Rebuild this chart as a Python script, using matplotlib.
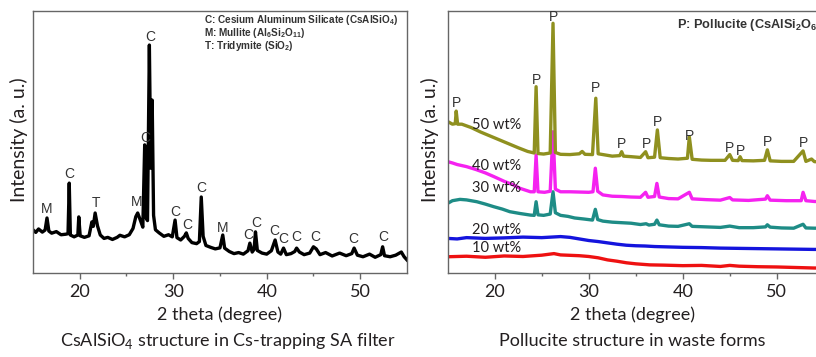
import matplotlib
matplotlib.use('Agg')
import matplotlib.pyplot as plt

# fonts
plt.rcParams['font.family'] = ['Lato', 'DejaVu Sans']
plt.rcParams['mathtext.fontset'] = 'custom'
plt.rcParams['mathtext.rm'] = 'Lato'
plt.rcParams['mathtext.bf'] = 'Liberation Sans:bold'

# ---- left pattern: CsAlSiO4 in SA filter (2 theta, intensity a.u.)
left_tt = [15.0, 15.3, 15.6, 16.0, 16.3, 16.5, 16.7, 17.0, 17.5, 18.0, 18.5, 18.75, 18.88, 19.0,
           19.4, 19.8, 19.9, 20.05, 20.5, 21.0, 21.3, 21.45, 21.65, 21.9, 22.2, 22.6, 23.0, 23.5,
           24.0, 24.3, 24.8, 25.3, 25.7, 26.0, 26.2, 26.5, 26.75, 26.95, 27.1, 27.25, 27.45, 27.6,
           27.75, 27.9, 28.1, 28.5, 29.0, 29.5, 29.9, 30.2, 30.4, 30.8, 31.2, 31.4, 31.6, 32.0,
           32.5, 32.8, 33.0, 33.2, 33.5, 34.0, 34.5, 35.0, 35.3, 35.5, 36.0, 36.5, 37.0, 37.5,
           38.0, 38.2, 38.45, 38.65, 38.8, 39.0, 39.5, 40.0, 40.5, 40.9, 41.2, 41.5, 41.8, 42.1,
           42.6, 43.0, 43.2, 43.5, 44.0, 44.6, 45.0, 45.3, 45.7, 46.3, 47.0, 47.8, 48.5, 49.1,
           49.35, 49.7, 50.3, 51.0, 51.6, 52.2, 52.4, 52.6, 53.2, 53.8, 54.4, 54.7, 55.0]
left_int = [16.5, 15.5, 16.8, 15.6, 16.4, 21.0, 16.0, 15.2, 15.8, 14.6, 14.8, 15.0, 34.3, 14.5,
            13.8, 14.5, 21.4, 14.2, 13.6, 14.2, 19.5, 17.8, 22.9, 18.0, 14.5, 13.2, 13.6, 12.8,
            13.6, 14.4, 13.8, 14.6, 17.0, 21.5, 22.9, 20.0, 17.5, 48.9, 21.0, 20.0, 87.0, 40.0,
            66.0, 22.0, 16.5, 15.3, 14.0, 14.6, 13.8, 20.2, 13.5, 12.6, 14.0, 15.3, 13.2, 11.6,
            11.2, 12.0, 29.0, 14.0, 10.5, 9.8, 9.2, 9.6, 14.5, 9.5, 8.2, 7.4, 7.8, 7.2,
            8.5, 11.4, 8.0, 9.0, 15.7, 8.6, 7.6, 7.2, 8.5, 12.6, 8.0, 7.2, 9.5, 7.0,
            7.4, 8.2, 9.5, 8.0, 7.0, 7.6, 10.0, 9.2, 7.0, 7.8, 6.5, 7.6, 6.6, 7.4,
            9.5, 6.8, 6.2, 7.2, 6.0, 7.0, 10.0, 6.6, 6.2, 6.8, 8.0, 6.2, 5.0]

left_lab = ['M', 'C', 'T', 'M', 'C', 'C', 'C', 'C', 'C', 'M', 'C', 'C', 'C', 'C', 'C', 'C', 'C', 'C']
left_lab_tt = [16.5, 18.9, 21.7, 26.1, 27.0, 27.5, 30.2, 31.5, 33.0, 35.3, 38.0, 38.9, 40.8, 41.8,
               43.2, 45.2, 49.3, 52.5]
left_lab_y = [24.4, 37.8, 26.7, 27.0, 51.5, 90.0, 23.4, 18.3, 32.4, 17.2, 14.5, 19.0, 16.0, 13.0,
              13.7, 13.7, 13.0, 13.7]
left_legend = ['C: Cesium Aluminum Silicate (CsAlSiO$_\\mathbf{4}$)',
               'M: Mullite (Al$_\\mathbf{6}$Si$_\\mathbf{2}$O$_\\mathbf{11}$)',
               'T: Tridymite (SiO$_\\mathbf{2}$)']

# ---- right patterns: pollucite waste forms
w10_tt = [15, 17, 19, 21, 23, 25, 26.3, 27, 29, 30, 31, 32, 33, 34, 35, 36.5, 38, 40, 42, 44, 45,
          46, 48, 50, 52, 54, 55]
w10 = [6.2, 6.4, 6.0, 6.5, 6.3, 6.8, 7.4, 6.9, 6.6, 6.3, 5.8, 5.0, 4.5, 3.9, 3.5, 3.1, 3.0, 2.8,
       2.9, 2.5, 2.9, 2.6, 2.4, 2.3, 2.1, 1.9, 1.9]

w20_tt = [15, 16, 17, 19, 21, 23, 25, 27, 28, 29, 30, 31, 32, 33, 34, 35, 36, 37, 38, 40, 42, 44,
          46, 48, 50, 52, 54, 55]
w20 = [13.2, 13.0, 13.5, 13.2, 13.4, 13.7, 13.5, 13.9, 13.6, 13.0, 12.4, 12.0, 11.5, 11.0, 10.6,
       10.4, 10.3, 10.1, 10.0, 9.8, 9.7, 9.5, 9.4, 9.3, 9.2, 9.1, 9.0, 9.0]

w30_tt = [15, 15.5, 16.3, 17, 18.1, 19.0, 19.9, 20.8, 21.6, 22.7, 23.8, 24.2, 24.4, 24.6, 25.2,
          25.9, 26.2, 26.45, 27, 27.8, 28.5, 29.5, 30.4, 30.7, 30.95, 31.5, 32.5, 33.5, 34.5, 35.5,
          36.1, 36.4, 37.0, 37.25, 37.5, 38.5, 39.5, 40.7, 41, 42.5, 44, 45, 46, 47.5, 48.8, 49.0,
          49.3, 50.5, 51.8, 52.8, 53.1, 54, 55]
w30 = [26.6, 27.6, 28.1, 27.9, 27.2, 26.3, 25.3, 24.4, 23.4, 22.7, 22.1, 22.0, 27.2, 22.2, 22.0,
       22.5, 31.0, 23.0, 22.0, 21.6, 21.0, 20.6, 20.2, 24.3, 20.4, 19.8, 19.4, 19.2, 19.0, 18.5,
       18.8, 18.3, 18.6, 20.2, 18.4, 17.9, 17.8, 18.8, 17.8, 17.6, 17.4, 17.9, 17.3, 17.3, 17.6,
       18.4, 17.5, 17.2, 17.1, 18.6, 17.2, 17.1, 17.1]

w40_tt = [15, 15.5, 16, 17, 18, 19, 19.9, 21, 22, 22.7, 23.8, 24.2, 24.4, 24.6, 25.3, 25.9, 26.2,
          26.45, 27, 28, 29, 30, 30.45, 30.7, 30.95, 31.5, 32.5, 33.5, 34.5, 35.5, 36.05, 36.3, 37.0,
          37.25, 37.5, 38.5, 39.5, 40.7, 41.0, 42.5, 44, 45, 45.3, 47, 48.8, 49.0, 49.3, 51, 52.6,
          52.8, 53.1, 54, 55]
w40 = [42.5, 42.0, 41.4, 40.6, 39.5, 38.2, 36.8, 35.0, 33.6, 32.3, 31.0, 31.0, 45.0, 31.0, 30.8,
       31.2, 53.9, 32.0, 31.0, 31.0, 30.9, 30.8, 31.0, 40.0, 31.2, 29.8, 29.3, 29.2, 29.0, 28.9,
       30.8, 28.9, 29.2, 34.2, 29.0, 28.4, 28.3, 30.8, 28.3, 28.0, 27.8, 28.8, 27.9, 27.7, 28.2,
       29.5, 27.8, 27.6, 27.6, 30.8, 27.6, 27.3, 27.2]

w50_tt = [15, 15.5, 15.8, 15.9, 16.05, 16.5, 17.5, 18.5, 19.5, 20.5, 21.5, 22.5, 23.5, 24.2, 24.4,
          24.6, 25.2, 25.9, 26.2, 26.45, 27, 28, 29, 29.3, 29.6, 30.4, 30.75, 31.0, 31.5, 32.5, 33.3,
          33.5, 33.7, 34.5, 35.5, 36.05, 36.3, 37.0, 37.3, 37.6, 38.5, 39.5, 40.5, 40.7, 41.0, 42,
          43, 44.5, 45.0, 45.3, 45.9, 46.1, 46.3, 47.5, 48.7, 49.0, 49.3, 50.5, 51.8, 52.8, 53.1,
          53.7, 54.0, 55]
w50 = [57.8, 56.8, 57.0, 61.8, 56.8, 56.8, 55.5, 53.8, 52.3, 50.8, 49.3, 47.8, 46.4, 45.8, 71.1,
       45.6, 45.4, 45.8, 95.3, 46.0, 45.3, 45.2, 45.5, 46.4, 45.3, 45.2, 66.7, 45.5, 45.2, 44.6, 44.8,
       46.3, 44.6, 44.4, 44.1, 46.3, 44.0, 44.2, 54.6, 44.0, 43.7, 43.5, 43.8, 52.0, 43.4, 43.1,
       43.0, 43.0, 45.2, 43.0, 42.9, 44.4, 42.9, 42.8, 43.0, 47.0, 42.8, 42.6, 42.6, 46.6, 42.6,
       43.5, 42.5, 42.3]

series = [('10 wt%', w10_tt, w10, '#ee1111', 9.4),
          ('20 wt%', w20_tt, w20, '#1414dd', 16.4),
          ('30 wt%', w30_tt, w30, '#1e8c86', 32.3),
          ('40 wt%', w40_tt, w40, '#f522f0', 41.0),
          ('50 wt%', w50_tt, w50, '#8f901f', 56.5)]

p_tt = [15.9, 24.4, 26.2, 30.7, 33.5, 36.1, 37.3, 40.7, 45.0, 46.1, 49.0, 52.8]
p_y = [64.8, 73.7, 97.8, 70.5, 49.2, 49.2, 57.8, 52.3, 47.8, 46.7, 50.1, 49.7]

txt = '#231f20'
spine = '#666666'

fig = plt.figure(figsize=(8.16, 3.57), dpi=100)
ax1 = fig.add_axes([0.0404, 0.2353, 0.4583, 0.7339])
ax2 = fig.add_axes([0.5487, 0.2353, 0.4608, 0.7339])

for ax in (ax1, ax2):
    ax.set_xlim(15, 55)
    ax.set_ylim(0, 100)
    ax.set_yticks([])
    ax.set_xticks([20, 30, 40, 50])
    ax.set_xticks([25, 35, 45], minor=True)
    ax.tick_params(axis='x', which='major', direction='out', length=4, width=1, color=spine,
                   labelsize=13, labelcolor=txt, pad=4)
    ax.tick_params(axis='x', which='minor', direction='out', length=2.5, width=1, color=spine)
    for s in ax.spines.values():
        s.set_color(spine)
        s.set_linewidth(1)

# left
ax1.plot(left_tt, left_int, color='black', lw=2.4, solid_joinstyle='round')
for lab, x, y in zip(left_lab, left_lab_tt, left_lab_y):
    ax1.text(x, y, lab, ha='center', va='center', fontsize=10, color='#333333',
             family='Liberation Sans')
for i, s in enumerate(left_legend):
    ax1.text(0.457, 0.967 - i * 0.05, s, transform=ax1.transAxes, ha='left', va='center',
             fontsize=7.2, fontweight='bold', color='#333333', family='Liberation Sans')

# right
for name, xs, ys, col, ly in series:
    ax2.plot(xs, ys, color=col, lw=2.4, solid_joinstyle='round')
    ax2.text(17.6, ly, name, ha='left', va='center', fontsize=10.5, color=txt)
for x, y in zip(p_tt, p_y):
    ax2.text(x, y, 'P', ha='center', va='center', fontsize=10, color='#333333',
             family='Liberation Sans')
ax2.text(0.609, 0.948, 'P: Pollucite (CsAlSi$_\\mathbf{2}$O$_\\mathbf{6}$)', transform=ax2.transAxes,
         ha='left', va='center', fontsize=9.2, fontweight='bold', color='#333333',
         family='Liberation Sans')

# axis titles and captions
fig.text(19 / 816, 1 - 140 / 357, 'Intensity (a. u.)', rotation=90, ha='center', va='center',
         fontsize=14, color=txt)
fig.text(430 / 816, 1 - 140 / 357, 'Intensity (a. u.)', rotation=90, ha='center', va='center',
         fontsize=14, color=txt)
fig.text(219.5 / 816, 1 - 315 / 357, '2 theta (degree)', ha='center', va='center', fontsize=13,
         color=txt)
fig.text(633 / 816, 1 - 315 / 357, '2 theta (degree)', ha='center', va='center', fontsize=13,
         color=txt)
fig.text(228 / 816, 1 - 341 / 357, 'CsAlSiO$_4$ structure in Cs-trapping SA filter', ha='center',
         va='center', fontsize=13, color=txt)
fig.text(632 / 816, 1 - 341 / 357, 'Pollucite structure in waste forms', ha='center',
         va='center', fontsize=13, color=txt)

fig.savefig('out.png', dpi=100)
